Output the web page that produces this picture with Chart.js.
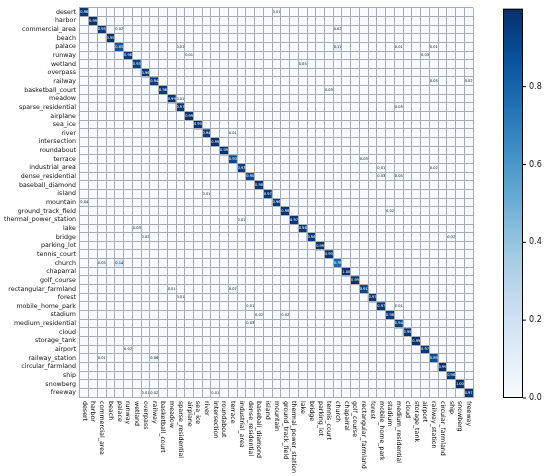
<!DOCTYPE html>
<html>
<head>
<meta charset="utf-8">
<script src="https://cdn.jsdelivr.net/npm/chart.js@4.4.1/dist/chart.umd.min.js"></script>
<style>
  html, body { margin: 0; padding: 0; background: #fff; }
  #wrap { width: 550px; height: 476px; }
</style>
</head>
<body>
<div id="wrap"><canvas id="cm"></canvas></div>
<script>
const classes = ["desert", "harbor", "commercial_area", "beach", "palace", "runway", "wetland", "overpass",
  "railway", "basketball_court", "meadow", "sparse_residential", "airplane", "sea_ice", "river",
  "intersection", "roundabout", "terrace", "industrial_area", "dense_residential", "baseball_diamond",
  "island", "mountain", "ground_track_field", "thermal_power_station", "lake", "bridge", "parking_lot",
  "tennis_court", "church", "chaparral", "golf_course", "rectangular_farmland", "forest",
  "mobile_home_park", "stadium", "medium_residential", "cloud", "storage_tank", "airport",
  "railway_station", "circular_farmland", "ship", "snowberg", "freeway"];

// diagonal (correct) rates, one per class
const diagonal = [0.96, 0.99, 0.95, 0.99, 0.85, 0.96, 0.93, 0.96, 0.94, 0.96, 0.99, 0.97, 0.99, 0.99, 0.94,
  0.99, 0.99, 0.90, 0.93, 0.90, 0.98, 0.97, 0.96, 0.98, 0.97, 0.96, 0.96, 0.99, 0.99, 0.78,
  1.00, 0.99, 0.91, 0.97, 0.97, 0.96, 0.94, 0.99, 0.99, 0.97, 0.89, 0.99, 0.96, 1.00, 0.97];

// off-diagonal confusions: true row, predicted column, rate
const offRows = [0, 2, 2, 4, 4, 4, 4, 5, 5, 6, 8, 8, 9, 10, 11, 14, 17, 18, 18, 19, 19, 21, 22, 23, 24,
  25, 26, 26, 29, 29, 32, 32, 33, 34, 34, 35, 35, 36, 39, 40, 40, 44, 44, 44];
const offCols = [22, 4, 29, 11, 29, 36, 40, 12, 39, 25, 40, 44, 28, 11, 36, 17, 32, 34, 40, 34, 36, 14, 0, 35, 18,
  6, 7, 42, 2, 4, 10, 17, 11, 19, 36, 20, 23, 19, 5, 2, 8, 7, 8, 15];
const offVals = [0.01, 0.02, 0.02, 0.01, 0.11, 0.01, 0.01, 0.01, 0.03, 0.05, 0.05, 0.02, 0.03, 0.01, 0.03, 0.01,
  0.03, 0.01, 0.02, 0.03, 0.05, 0.01, 0.04, 0.02, 0.01, 0.03, 0.02, 0.02, 0.05, 0.14, 0.01, 0.07, 0.01,
  0.01, 0.01, 0.02, 0.02, 0.03, 0.02, 0.01, 0.06, 0.01, 0.02, 0.01];

const colorbarTicks = [0.0, 0.2, 0.4, 0.6, 0.8];

// build the matrix from the arrays above
const n = classes.length;
const matrix = classes.map((_, r) => classes.map((_, c) => (r === c ? diagonal[r] : 0)));
offRows.forEach((r, k) => { matrix[r][offCols[k]] = offVals[k]; });

// matplotlib "Blues"
const blues = ["#f7fbff", "#deebf7", "#c6dbef", "#9ecae1", "#6baed6", "#4292c6", "#2171b5", "#08519c", "#08306b"];
function hexToRgb(h) {
  return [parseInt(h.slice(1, 3), 16), parseInt(h.slice(3, 5), 16), parseInt(h.slice(5, 7), 16)];
}
function blueColor(v) {
  const t = Math.max(0, Math.min(1, v)) * (blues.length - 1);
  const i = Math.min(Math.floor(t), blues.length - 2);
  const f = t - i;
  const a = hexToRgb(blues[i]), b = hexToRgb(blues[i + 1]);
  const c = a.map((x, k) => Math.round(x + (b[k] - x) * f));
  return `rgb(${c[0]},${c[1]},${c[2]})`;
}

const gridColor = "#a9adb3";

// one dataset per true class, each cell a floating bar spanning [r, r+1]
const datasets = classes.map((name, r) => ({
  label: name,
  data: classes.map(() => [r, r + 1]),
  backgroundColor: (ctx) => blueColor(matrix[ctx.datasetIndex][ctx.dataIndex]),
  borderWidth: 0,
  barPercentage: 1,
  categoryPercentage: 1,
  grouped: false,
  yAxisID: "y"
}));

// cell values, x labels and the colorbar
const extras = {
  id: "extras",
  afterDatasetsDraw(chart) {
    const ctx = chart.ctx;
    ctx.save();
    ctx.font = "3.6px 'DejaVu Sans'";
    ctx.textAlign = "center";
    ctx.textBaseline = "middle";
    chart.data.datasets.forEach((ds, r) => {
      chart.getDatasetMeta(r).data.forEach((el, c) => {
        const v = matrix[r][c];
        if (v <= 0) return;
        ctx.fillStyle = v > 0.5 ? "#ffffff" : "#222222";
        ctx.fillText(v.toFixed(2), el.x, (el.y + el.base) / 2);
      });
    });
    ctx.restore();
  },
  afterDraw(chart) {
    const ctx = chart.ctx;
    const area = chart.chartArea;
    const xs = chart.scales.x;
    ctx.save();
    ctx.fillStyle = "#111";
    ctx.font = "6.3px 'DejaVu Sans'";
    ctx.textAlign = "left";
    ctx.textBaseline = "middle";
    classes.forEach((name, i) => {
      const x = xs.getPixelForValue(i);
      ctx.save();
      ctx.translate(x, area.bottom + 4);
      ctx.rotate(Math.PI / 2);
      ctx.fillText(name, 0, 0);
      ctx.restore();
    });

    // colorbar
    const cbX = area.right + 30, cbW = 20;
    const cbTop = area.top + 1, cbBot = area.bottom + 1;
    const grad = ctx.createLinearGradient(0, cbBot, 0, cbTop);
    blues.forEach((col, k) => grad.addColorStop(k / (blues.length - 1), col));
    ctx.fillStyle = grad;
    ctx.fillRect(cbX, cbTop, cbW, cbBot - cbTop);
    ctx.strokeStyle = "#000";
    ctx.lineWidth = 1;
    ctx.strokeRect(cbX + 0.5, cbTop + 0.5, cbW - 1, cbBot - cbTop - 1);
    ctx.font = "8px 'DejaVu Sans'";
    ctx.fillStyle = "#111";
    ctx.textAlign = "left";
    colorbarTicks.forEach((t) => {
      const y = cbBot - t * (cbBot - cbTop);
      ctx.beginPath();
      ctx.moveTo(cbX + cbW, y);
      ctx.lineTo(cbX + cbW + 3, y);
      ctx.stroke();
      ctx.fillText(t.toFixed(1), cbX + cbW + 6, y);
    });
    ctx.restore();
  }
};

new Chart(document.getElementById("cm"), {
  type: "bar",
  data: { labels: classes, datasets },
  options: {
    responsive: true,
    maintainAspectRatio: false,
    animation: false,
    layout: { padding: { top: 3, right: 77, bottom: 79, left: 0 } },
    plugins: { legend: { display: false }, tooltip: { enabled: false } },
    scales: {
      x: {
        ticks: { display: false },
        grid: { color: gridColor, lineWidth: 1, drawTicks: false, offset: true, z: 1 },
        border: { color: gridColor, z: 1 }
      },
      y: {
        display: false,
        min: 0,
        max: n,
        reverse: true
      },
      yc: {
        type: "category",
        position: "left",
        labels: classes,
        offset: true,
        grid: { color: gridColor, lineWidth: 1, drawTicks: false, offset: true, z: 1 },
        border: { color: gridColor, z: 1 },
        ticks: {
          color: "#111",
          padding: 4,
          autoSkip: false,
          font: { family: "DejaVu Sans", size: 6.3 }
        }
      }
    }
  },
  plugins: [extras]
});
</script>
</body>
</html>
